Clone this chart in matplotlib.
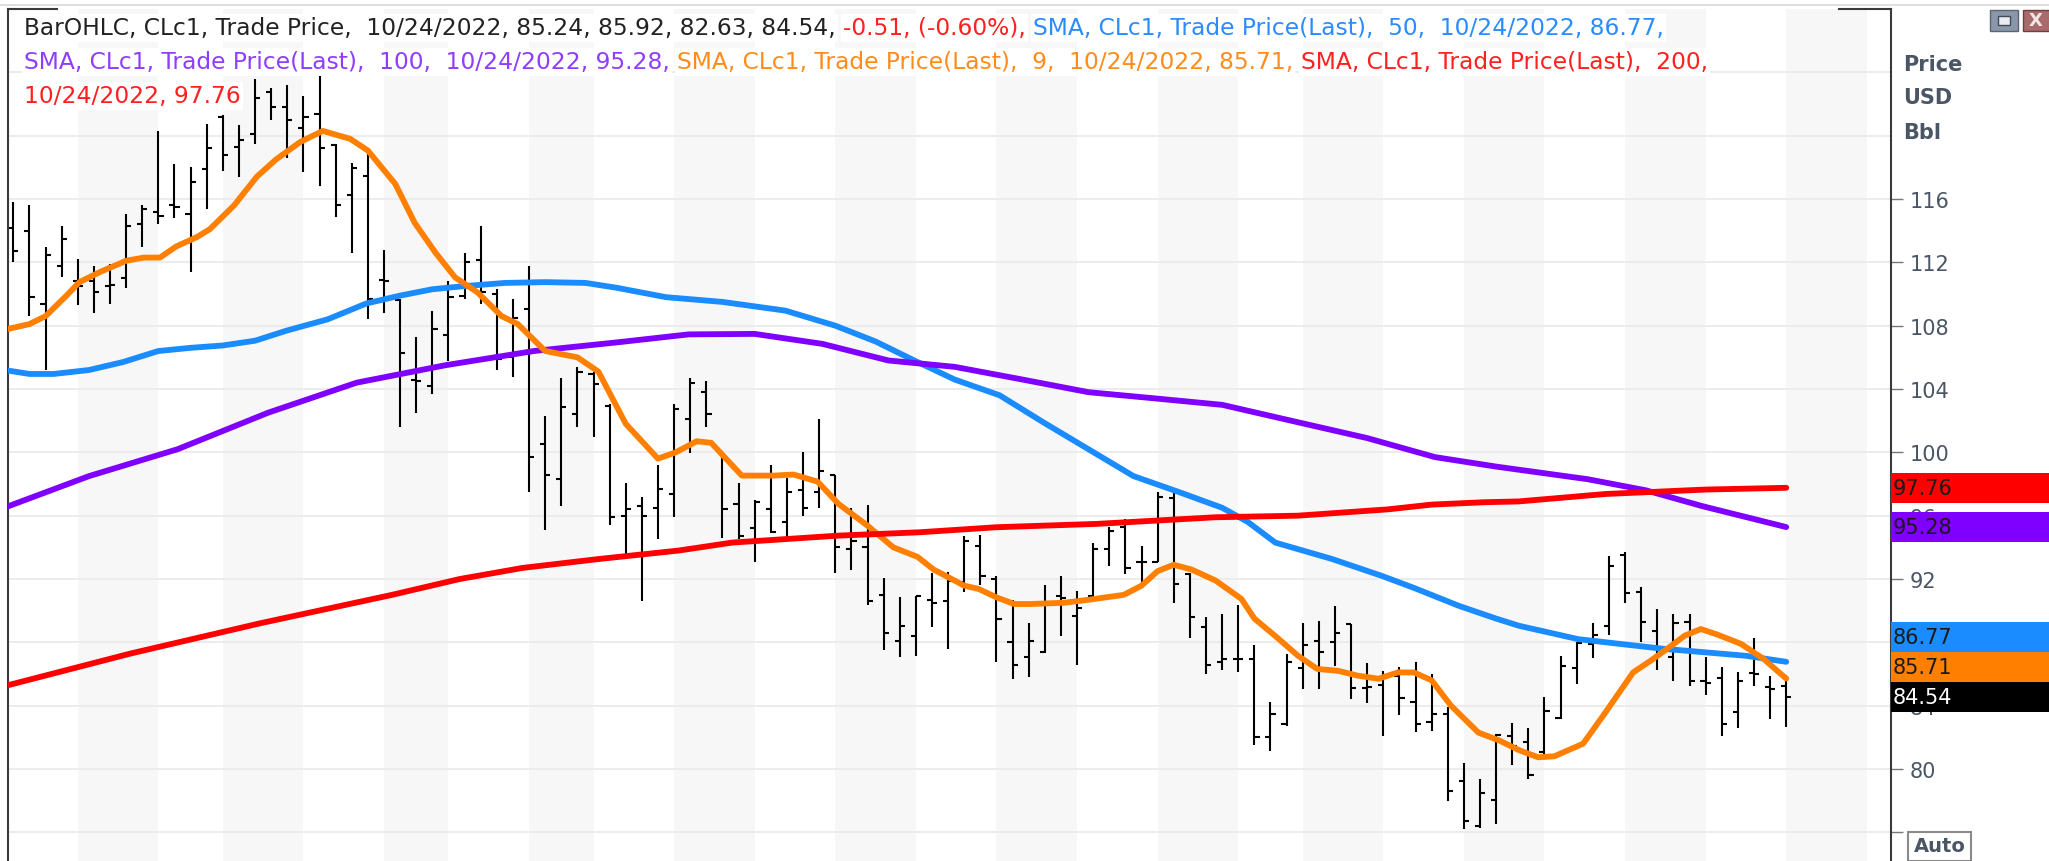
import numpy as np
import pandas as pd
import matplotlib
matplotlib.use("Agg")
import matplotlib.pyplot as plt
from matplotlib.patches import Rectangle
from matplotlib.lines import Line2D

# CLc1 daily bars, 17 May - 24 Oct 2022
holidays = ["2022-05-30", "2022-06-20", "2022-07-04", "2022-09-05"]
dates = pd.bdate_range("2022-05-17", "2022-10-24")
dates = dates[~dates.isin(pd.to_datetime(holidays))]

opens = [114.15, 113.95, 109.4, 111.75, 110.85, 110.8, 110.5, 111.0, 114.4, 115.2,
         115.65, 115.05, 117.9, 121.2, 119.3, 120.1, 122.75, 121.8, 120.5, 121.4,
         119.4, 116.25, 117.45, 110.9, 109.6, 104.6, 104.2, 107.4, 109.9, 112.15,
         110.0, 106.0, 109.05, 100.5, 98.3, 102.4, 104.95, 102.9, 95.96, 96.6,
         96.5, 97.4, 102.1, 103.8, 100.0, 96.75, 95.2, 96.4, 95.6, 97.6,
         97.5, 98.6, 93.9, 94.0, 91.0, 88.1, 88.42, 90.7, 90.6, 91.8,
         94.1, 92.0, 88.0, 87.1, 87.4, 90.95, 89.64, 90.9, 93.9, 95.3,
         93.1, 93.1, 97.1, 92.3, 88.95, 86.78, 86.95, 86.95, 82.0, 82.84,
         86.36, 88.1, 88.0, 89.16, 85.1, 85.3, 85.9, 84.25, 82.99, 83.47,
         79.26, 76.42, 78.06, 82.1, 81.69, 81.05, 83.2, 86.36, 87.9, 89.06,
         93.52, 91.16, 88.74, 87.05, 89.3, 85.58, 85.73, 83.58, 86.07, 85.16,
         85.24]
highs = [115.8, 115.65, 112.95, 114.3, 112.2, 111.75, 111.9, 115.05, 115.65, 120.3,
         118.2, 118.05, 120.75, 121.3, 120.7, 123.6, 123.0, 123.2, 122.5, 123.75,
         119.5, 118.3, 119.2, 112.8, 109.7, 107.3, 108.9, 110.85, 112.6, 114.3,
         110.3, 109.7, 111.8, 102.3, 104.7, 105.4, 105.05, 103.05, 98.07, 97.16,
         99.2, 103.05, 104.7, 104.5, 100.1, 98.07, 97.0, 99.2, 98.4, 100.0,
         102.1, 98.6, 96.5, 96.7, 92.05, 90.85, 90.95, 92.4, 92.47, 94.74,
         94.78, 92.17, 90.7, 89.2, 91.6, 92.2, 91.27, 94.27, 95.3, 95.8,
         94.1, 97.5, 97.73, 92.4, 89.6, 89.8, 90.36, 87.83, 84.25, 87.27,
         89.2, 89.37, 90.28, 89.16, 86.7, 86.2, 86.42, 86.78, 86.0, 83.9,
         80.38, 79.4, 82.2, 82.9, 82.57, 84.53, 87.12, 88.0, 89.22, 93.43,
         93.73, 91.48, 90.1, 89.79, 89.79, 87.05, 86.42, 86.15, 88.26, 85.9,
         85.92]
lows = [112.0, 108.6, 105.2, 111.05, 109.3, 108.8, 109.4, 110.4, 113.0, 114.4,
        114.8, 111.4, 115.4, 117.8, 117.4, 119.5, 121.0, 118.6, 117.7, 116.8,
        114.85, 112.6, 108.4, 108.8, 101.6, 102.5, 103.7, 105.8, 109.7, 109.4,
        105.2, 104.75, 97.5, 95.1, 96.6, 101.6, 101.0, 95.4, 93.5, 90.6,
        94.5, 95.9, 99.96, 101.6, 94.6, 94.5, 93.06, 94.9, 94.57, 96.0,
        96.5, 92.4, 92.6, 90.36, 87.5, 87.06, 87.16, 88.95, 87.6, 91.2,
        91.6, 86.74, 85.7, 85.8, 87.3, 88.4, 86.56, 90.8, 92.85, 92.3,
        91.58, 93.06, 90.5, 88.25, 86.0, 86.28, 86.15, 81.5, 81.16, 82.74,
        85.05, 85.05, 86.53, 84.42, 84.17, 82.06, 83.4, 82.36, 82.42, 78.0,
        76.21, 76.3, 76.53, 80.25, 79.37, 80.88, 83.16, 85.37, 86.99, 88.47,
        90.49, 88.05, 86.28, 85.58, 85.22, 84.67, 82.11, 82.57, 85.22, 83.16,
        82.63]
closes = [112.7, 109.8, 112.45, 113.5, 110.5, 110.1, 110.6, 114.3, 115.4, 114.9,
          115.5, 117.1, 119.2, 118.8, 119.7, 122.4, 121.8, 121.0, 121.2, 119.2,
          115.65, 117.95, 109.7, 110.85, 106.3, 104.5, 107.8, 109.8, 112.05, 110.1,
          105.9, 108.5, 99.7, 98.6, 102.85, 105.05, 104.3, 95.9, 96.4, 95.95,
          97.7, 102.75, 104.4, 102.4, 96.4, 94.7, 96.85, 95.0, 97.5, 96.5,
          98.8, 94.0, 94.4, 90.6, 88.6, 89.05, 90.95, 90.5, 91.9, 94.4,
          92.2, 89.5, 86.6, 88.1, 90.5, 90.8, 90.2, 93.9, 95.06, 92.7,
          93.1, 97.16, 91.7, 89.6, 86.6, 86.95, 86.95, 82.0, 83.47, 86.78,
          87.83, 87.37, 88.6, 85.1, 85.16, 85.9, 84.5, 82.84, 83.47, 78.63,
          76.74, 78.5, 82.15, 81.47, 79.6, 83.69, 86.49, 87.96, 88.47, 92.8,
          91.12, 89.31, 87.3, 89.2, 85.58, 85.43, 82.84, 85.58, 86.0, 85.05,
          84.54]

# moving averages, (bar index, value)
sma9_pts = [(-0.3, 107.8), (1, 108.1), (2, 108.6), (3.3, 109.9), (4.1, 110.75), (5.4, 111.4),
            (7, 112.1), (8.1, 112.3), (9.1, 112.3), (10.1, 113.0), (11.4, 113.6), (12.2, 114.1),
            (13.7, 115.6), (15.1, 117.4), (16.3, 118.5), (17.8, 119.6), (19.2, 120.3), (20.9, 119.8),
            (22, 119.06), (23.7, 116.95), (24.9, 114.5), (26.2, 112.6), (27.4, 111.06), (28.8, 110.1),
            (30.3, 108.6), (31.3, 108.1), (33, 106.4), (35, 106.0), (36.3, 105.1), (38, 101.8),
            (40, 99.6), (41.1, 100.0), (42.4, 100.7), (43.3, 100.6), (45.2, 98.53), (47.2, 98.53),
            (48.4, 98.6), (49.9, 98.15), (51.2, 96.74), (53, 95.37), (54.6, 94.0), (56.1, 93.4),
            (57.1, 92.6), (59, 91.58), (59.9, 91.37), (61, 90.84), (62.1, 90.42), (63.1, 90.42),
            (65.2, 90.5), (66.8, 90.7), (68.9, 91.0), (70, 91.58), (71, 92.5), (72, 92.9),
            (73.1, 92.6), (74.6, 91.9), (76.2, 90.74), (77, 89.5), (78.3, 88.4), (79.7, 87.16),
            (80.9, 86.32), (82.2, 86.2), (83.4, 85.9), (84.7, 85.7), (85.9, 86.1), (86.9, 86.1),
            (88, 85.6), (89.2, 84.0), (90.9, 82.3), (92.2, 81.8), (93.4, 81.2), (94.6, 80.74),
            (95.6, 80.8), (97.4, 81.6), (98.8, 83.6), (100.5, 86.1), (101.6, 86.85), (102.6, 87.58),
            (103.7, 88.42), (104.7, 88.84), (105.7, 88.5), (107.2, 87.9), (108.6, 86.95), (110, 85.71)]
sma50_pts = [(-0.3, 105.16), (1, 104.95), (2.5, 104.95), (4.7, 105.2), (6.8, 105.7), (9, 106.4),
             (11, 106.6), (13, 106.75), (15, 107.05), (17, 107.7), (19.5, 108.4), (21.9, 109.4),
             (24, 109.9), (26, 110.3), (28, 110.5), (30.5, 110.7), (33, 110.75), (35.5, 110.7),
             (37.4, 110.4), (40.5, 109.8), (44, 109.5), (47.9, 108.95), (51, 108.0), (53.5, 107.0),
             (55.7, 105.9), (58.4, 104.6), (61.2, 103.6), (63.9, 101.9), (66.7, 100.2), (69.5, 98.5),
             (72.3, 97.5), (75, 96.5), (76.6, 95.6), (78.3, 94.3), (81.8, 93.27), (84.9, 92.2),
             (87, 91.4), (89.7, 90.3), (92, 89.5), (93.4, 89.05), (97.1, 88.2), (102.3, 87.6),
             (107.5, 87.15), (110, 86.77)]
sma100_pts = [(-0.3, 96.6), (4.7, 98.5), (10.2, 100.2), (15.8, 102.5), (21.3, 104.4), (26.8, 105.5),
              (32.3, 106.4), (37.5, 106.95), (41.9, 107.45), (46, 107.48), (50.2, 106.85), (54.3, 105.8),
              (58.4, 105.4), (62.6, 104.6), (66.7, 103.8), (70.9, 103.4), (75, 103.0), (79.7, 101.9),
              (84, 100.9), (88.2, 99.7), (92, 99.1), (97.7, 98.3), (101.3, 97.6), (104.8, 96.6),
              (110, 95.28)]
sma200_pts = [(-0.3, 85.3), (7.3, 87.3), (15.3, 89.2), (23.5, 91.0), (27.7, 92.0), (31.6, 92.7),
              (36.3, 93.26), (41.3, 93.8), (44.6, 94.3), (51.2, 94.74), (56.2, 94.95), (61, 95.27),
              (67.2, 95.48), (74.6, 95.9), (79.7, 96.0), (85.3, 96.4), (88, 96.7), (91.3, 96.85),
              (93.4, 96.9), (98.8, 97.37), (105, 97.65), (110, 97.76)]

y_ticks = list(range(76, 117, 4))
y_hidden = [76, 88]   # labels sitting fully under the Auto button / value tags

C_BLUE, C_PURPLE, C_ORANGE, C_RED = "#1a8cff", "#8000ff", "#ff8000", "#ff0000"
AXC = "#4a5565"

W, H = 2049, 862
fig = plt.figure(figsize=(W / 100, H / 100), dpi=100)
PL, PR, PT = 8, 1891, 10
ax = fig.add_axes([PL / W, 0, (PR - PL) / W, (H - PT) / H])
ax.set_xlim(-0.33, 116.5)
ax.set_ylim(74.19, 128.0)

# weekly background bands
x = np.arange(len(dates))
wk = dates.isocalendar().week.values
starts = np.flatnonzero(np.r_[True, wk[1:] != wk[:-1]])
ends = np.r_[starts[1:], len(dates) - 1 + 5]
for s, e in zip(starts, ends):
    if wk[s] % 2 == 1:
        ax.axvspan(s, e, color="#f7f7f7", lw=0, zorder=0)

for v in range(76, 128, 4):
    ax.axhline(v, color="#ebebeb", lw=1.3, zorder=0.5)

# OHLC bars
ax.vlines(x, lows, highs, color="black", lw=1.5, zorder=2)
ax.hlines(opens, x - 0.32, x, color="black", lw=1.5, zorder=2)
ax.hlines(closes, x, x + 0.32, color="black", lw=1.5, zorder=2)

for pts, col in [(sma50_pts, C_BLUE), (sma100_pts, C_PURPLE),
                 (sma9_pts, C_ORANGE), (sma200_pts, C_RED)]:
    px, py = zip(*pts)
    ax.plot(px, py, color=col, lw=4.2, solid_capstyle="round",
            solid_joinstyle="round", zorder=3)

ax.xaxis.set_visible(False)
ax.yaxis.tick_right()
ax.set_yticks(y_ticks)
ax.set_yticklabels(["" if v in y_hidden else str(v) for v in y_ticks])
ax.tick_params(axis="y", length=8.6, width=1, color="#777777", pad=4.5,
               labelsize=15, labelcolor=AXC)
for sp in ["top", "bottom"]:
    ax.spines[sp].set_visible(False)
for sp in ["left", "right"]:
    ax.spines[sp].set_color("#3a3a3a")
    ax.spines[sp].set_linewidth(1.5)

# short pieces of the top frame, and the window edge
fig.add_artist(Line2D([PL / W, 57 / W], [1 - PT / H] * 2, color="#3a3a3a", lw=1.5))
fig.add_artist(Line2D([1839 / W, PR / W], [1 - PT / H] * 2, color="#3a3a3a", lw=1.5))
fig.add_artist(Line2D([0, 1], [1 - 6 / H] * 2, color="#d8d8d8", lw=1.2))

# header legend
last = len(closes) - 1
chg = closes[last] - closes[last - 1]
pct = chg / closes[last - 1] * 100
d = dates[last].strftime("%m/%d/%Y")
sma_txt = "SMA, CLc1, Trade Price(Last),  {},"
lines = [
    [("BarOHLC, CLc1, Trade Price,  %s, %.2f, %.2f, %.2f, %.2f,"
      % (d, opens[last], highs[last], lows[last], closes[last]), "#222222"),
     ("%.2f, (%.2f%%)," % (chg, pct), "#ff2020"),
     (sma_txt.format(50) + "  %s, %.2f," % (d, sma50_pts[-1][1]), "#2b8cff")],
    [(sma_txt.format(100) + "  %s, %.2f," % (d, sma100_pts[-1][1]), "#8f3dff"),
     (sma_txt.format(9) + "  %s, %.2f," % (d, sma9_pts[-1][1]), "#ff8c1a"),
     (sma_txt.format(200), "#ff2020")],
    [("%s, %.2f" % (d, sma200_pts[-1][1]), "#ff2020")],
]
line_y = [29, 63, 97]
HF = "DejaVu Sans"
r = fig.canvas.get_renderer()


def width_of(s, size):
    t = fig.text(0, 0, s, fontsize=size, family=HF)
    w = t.get_window_extent(r).width
    t.remove()
    return w


def draw_line(parts, x0, yc, size, draw=True):
    gap = width_of("x x", size) - width_of("xx", size)
    xx = x0
    for s, c in parts:
        t = fig.text(xx / W, 1 - yc / H, s, color=c, fontsize=size, family=HF,
                     va="center", ha="left", zorder=5)
        if draw:
            t.set_bbox(dict(facecolor="white", edgecolor="none", pad=1.5))
        xx = t.get_window_extent(r).x1 + gap
        if not draw:
            t.remove()
    return xx - gap


w14 = draw_line(lines[0], 24, line_y[0], 14, draw=False) - 24
hsize = 14 * 1648 / w14
for parts, yc in zip(lines, line_y):
    draw_line(parts, 24, yc, hsize)

# right-hand panel labels
for i, s in enumerate(["Price", "USD", "Bbl"]):
    fig.text(1903 / W, 1 - [65, 98, 133][i] / H, s, fontsize=15, fontweight="bold",
             color=AXC, va="center", ha="left")

# last-value tags, stacked upward from the lowest
tags = [(closes[last], "black", "white"), (sma9_pts[-1][1], C_ORANGE, "#1a1a1a"),
        (sma50_pts[-1][1], C_BLUE, "#1a1a1a"), (sma100_pts[-1][1], C_PURPLE, "#1a1a1a"),
        (sma200_pts[-1][1], C_RED, "#1a1a1a")]
tags.sort(key=lambda t: t[0])
th = 30
prev = -1e9
for val, fc, tc in tags:
    yc = ax.transData.transform((0, val))[1]
    yc = max(yc, prev + th)
    prev = yc
    fig.add_artist(Rectangle((PR / W, (yc - th / 2) / H), (W - PR) / W, th / H,
                             transform=fig.transFigure, facecolor=fc, edgecolor="none", zorder=6))
    fig.text((PR + 2) / W, yc / H, "%.2f" % val, fontsize=15, color=tc,
             va="center", ha="left", zorder=7)

# Auto button
fig.add_artist(Rectangle((1908 / W, 0.5 / H), 63 / W, 29 / H, transform=fig.transFigure,
                         facecolor="white", edgecolor="#8a8a8a", lw=1.5, zorder=6))
fig.text(1939.5 / W, 15 / H, "Auto", fontsize=14, fontweight="bold", color=AXC,
         ha="center", va="center", zorder=7)

# window buttons
fig.add_artist(Rectangle((1990 / W, 1 - 32 / H), 28 / W, 21 / H, transform=fig.transFigure,
                         facecolor="#8a97a8", edgecolor="#5a6575", lw=1, zorder=6))
fig.add_artist(Rectangle((1998 / W, 1 - 26 / H), 12 / W, 9 / H, transform=fig.transFigure,
                         facecolor="#e8ecf0", edgecolor="#404a58", lw=1, zorder=7))
fig.add_artist(Rectangle((2023 / W, 1 - 32 / H), 30 / W, 21 / H, transform=fig.transFigure,
                         facecolor="#a86a6a", edgecolor="#704040", lw=1, zorder=6))
fig.text(2036 / W, 1 - 21.5 / H, "X", fontsize=13, fontweight="bold", color="#f2e6e6",
         ha="center", va="center", zorder=7)

fig.savefig("out.png", dpi=100, facecolor="white")
